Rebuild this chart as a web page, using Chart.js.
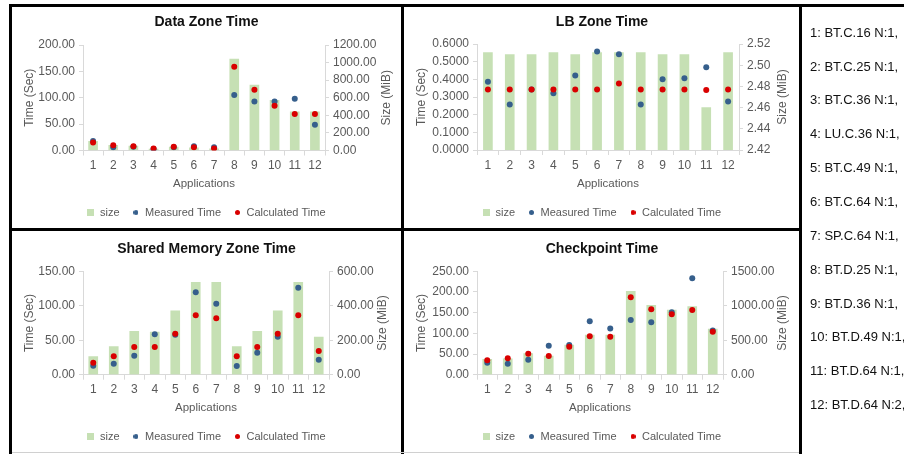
<!DOCTYPE html>
<html lang="en">
<head>
  <meta charset="UTF-8">
  <title>Zone Times</title>
  <script src="https://cdn.jsdelivr.net/npm/chart.js@4.4.1/dist/chart.umd.min.js"></script>
  <style>
    body {
      margin: 0;
      background: #fff;
      font-family: 'Liberation Sans', Arial, sans-serif;
    }

    #stage {
      position: relative;
      width: 904px;
      height: 454px;
      overflow: hidden;
      background: #fff;
    }

    canvas {
      position: absolute;
    }

    .rule {
      position: absolute;
      background: #000;
    }

    #appList {
      position: absolute;
      left: 810px;
      top: 15.8px;
      width: 94px;
      overflow: hidden;
      white-space: nowrap;
      font-size: 13px;
      line-height: 33.85px;
      color: #111;
    }
  </style>
</head>
<body>
  <div id="stage">
    <canvas id="dataChart" width="389" height="221" style="left:12px; top:7px"></canvas>
    <canvas id="lbChart" width="396" height="221" style="left:404px; top:7px"></canvas>
    <canvas id="smChart" width="389" height="221" style="left:12px; top:231px"></canvas>
    <canvas id="cpChart" width="396" height="221" style="left:404px; top:231px"></canvas>

    <!-- panel frames -->
    <div class="rule" style="left:9px; top:4px; width:895px; height:3px"></div>
    <div class="rule" style="left:9px; top:4px; width:3px; height:450px"></div>
    <div class="rule" style="left:401px; top:4px; width:3px; height:450px"></div>
    <div class="rule" style="left:799px; top:4px; width:3px; height:450px"></div>
    <div class="rule" style="left:9px; top:228px; width:793px; height:3px"></div>
    <div class="rule" style="left:12px; top:452px; width:787px; height:1px; background:#d0d0d0"></div>

    <div id="appList"></div>
  </div>

  <script>
    // categories
    const apps = ['1', '2', '3', '4', '5', '6', '7', '8', '9', '10', '11', '12'];
    const appNames = [
      '1: BT.C.16 N:1,', '2: BT.C.25 N:1,', '3: BT.C.36 N:1,', '4: LU.C.36 N:1,',
      '5: BT.C.49 N:1,', '6: BT.C.64 N:1,', '7: SP.C.64 N:1,', '8: BT.D.25 N:1,',
      '9: BT.D.36 N:1,', '10: BT.D.49 N:1,', '11: BT.D.64 N:1,', '12: BT.D.64 N:2,'
    ];

    // Data Zone Time
    const dzSize = [105, 60, 50, 15, 40, 30, 20, 1040, 745, 570, 440, 440];
    const dzMeasured = [18, 6, 7, 3, 6, 8, 6, 105, 93, 93, 98, 49];
    const dzCalculated = [15, 10, 8, 4, 7, 6, 4, 159, 115, 85, 69, 69];
    const dzTimeTicks = [0, 50, 100, 150, 200];
    const dzSizeTicks = [0, 200, 400, 600, 800, 1000, 1200];

    // LB Zone Time
    const lbSize = [2.512, 2.510, 2.510, 2.512, 2.510, 2.512, 2.512, 2.512, 2.510, 2.510, 2.460, 2.512];
    const lbMeasured = [0.387, 0.258, 0.343, 0.321, 0.421, 0.557, 0.542, 0.258, 0.400, 0.406, 0.468, 0.274];
    const lbCalculated = [0.343, 0.343, 0.343, 0.343, 0.343, 0.343, 0.377, 0.343, 0.343, 0.343, 0.340, 0.343];
    const lbTimeTicks = [0, 0.1, 0.2, 0.3, 0.4, 0.5, 0.6];
    const lbSizeTicks = [2.42, 2.44, 2.46, 2.48, 2.50, 2.52];

    // Shared Memory Zone Time
    const smSize = [105, 163, 252, 248, 370, 536, 536, 163, 252, 370, 536, 219];
    const smMeasured = [13.1, 16.0, 27.6, 58.5, 58.0, 119.5, 103, 12.6, 31.9, 55.2, 126.3, 21.8];
    const smCalculated = [17.4, 26.6, 40.2, 40.2, 59.5, 86.1, 81.8, 26.6, 40.2, 59.5, 86.1, 34.4];
    const smTimeTicks = [0, 50, 100, 150];
    const smSizeTicks = [0, 100, 200, 300, 400, 500, 600];

    // Checkpoint Time
    const cpSize = [223, 232, 305, 271, 430, 576, 576, 1210, 1006, 939, 987, 663];
    const cpMeasured = [29, 26.6, 36.3, 70.2, 71.8, 129, 112, 132.3, 126.6, 150.8, 233, 107];
    const cpCalculated = [34.7, 39.5, 50.8, 45.2, 67.7, 92.7, 91.9, 187, 158, 146, 156.5, 104];
    const cpTimeTicks = [0, 50, 100, 150, 200, 250];
    const cpSizeTicks = [0, 500, 1000, 1500];

    document.getElementById('appList').innerHTML = appNames.map(n => '<div>' + n + '</div>').join('');

    const FONT = "'Liberation Sans', Arial, sans-serif";
    const GREEN = '#c6e0b4';
    const BLUE = '#365f8c';
    const RED = '#d90000';
    const AXIS = '#d9d9d9';
    const LABEL = '#595959';

    // little legend markers
    function marker(shape, color, size) {
      const c = document.createElement('canvas');
      c.width = size;
      c.height = size;
      const g = c.getContext('2d');
      g.fillStyle = color;
      if (shape === 'rect') {
        g.fillRect(0, 0, size, size);
      } else {
        g.beginPath();
        g.arc(size / 2, size / 2, size / 2, 0, Math.PI * 2);
        g.fill();
      }
      return c;
    }
    const legendMarks = [marker('rect', GREEN, 7), marker('circle', BLUE, 5), marker('circle', RED, 5)];

    // vertical axis titles, both read bottom to top like the original
    const axisTitles = {
      id: 'axisTitles',
      afterDraw(chart, args, opts) {
        const {ctx, chartArea} = chart;
        const cy = (chartArea.top + chartArea.bottom) / 2;
        ctx.save();
        ctx.font = '12px ' + FONT;
        ctx.fillStyle = LABEL;
        ctx.textAlign = 'center';
        ctx.textBaseline = 'middle';
        [[opts.leftX, opts.left], [chartArea.right + opts.rightOffset, opts.right]].forEach(([x, text]) => {
          ctx.save();
          ctx.translate(x, cy);
          ctx.rotate(-Math.PI / 2);
          ctx.fillText(text, 0, 0);
          ctx.restore();
        });
        ctx.restore();
      }
    };

    function yAxis(position, ticks, decimals, width) {
      return {
        position: position,
        min: ticks[0],
        max: ticks[ticks.length - 1],
        afterBuildTicks: s => { s.ticks = ticks.map(v => ({value: v})); },
        afterFit: s => { s.width = width; },
        grid: {drawOnChartArea: false, tickLength: 4, color: AXIS},
        border: {color: AXIS},
        ticks: {
          padding: 4,
          color: LABEL,
          font: {family: FONT, size: 12},
          callback: v => Number(v).toFixed(decimals)
        }
      };
    }

    function makeChart(id, cfg) {
      const h = 221;
      const legendH = 11 + 13 + 10;
      return new Chart(document.getElementById(id), {
        type: 'bar',
        data: {
          labels: apps,
          datasets: [{
            type: 'bar',
            label: 'size',
            data: cfg.size,
            yAxisID: 'y1',
            backgroundColor: GREEN,
            barThickness: 9,
            order: 3
          }, {
            type: 'line',
            label: 'Measured Time',
            data: cfg.measured,
            yAxisID: 'y',
            showLine: false,
            pointRadius: 3,
            pointBorderWidth: 0,
            backgroundColor: BLUE,
            borderColor: BLUE,
            order: 2
          }, {
            type: 'line',
            label: 'Calculated Time',
            data: cfg.calculated,
            yAxisID: 'y',
            showLine: false,
            pointRadius: 3,
            pointBorderWidth: 0,
            backgroundColor: RED,
            borderColor: RED,
            order: 1
          }]
        },
        options: {
          responsive: false,
          animation: false,
          events: [],
          layout: {padding: 0},
          scales: {
            x: {
              offset: true,
              afterFit: s => { s.height = h - legendH - cfg.bottom; },
              grid: {offset: true, drawOnChartArea: false, tickLength: 5, color: AXIS},
              border: {color: AXIS},
              ticks: {padding: 3, color: LABEL, font: {family: FONT, size: 12}},
              title: {
                display: true,
                text: 'Applications',
                color: LABEL,
                font: {family: FONT, size: 11.5},
                padding: {top: 0, bottom: 3.6}
              }
            },
            y: yAxis('left', cfg.timeTicks, cfg.timeDecimals, cfg.leftW),
            y1: yAxis('right', cfg.sizeTicks, cfg.sizeDecimals, cfg.rightW)
          },
          plugins: {
            title: {
              display: true,
              text: cfg.title,
              color: '#111',
              font: {family: FONT, size: 14, weight: 'bold'},
              padding: {top: cfg.titleY - 8.4, bottom: cfg.top - cfg.titleY - 8.4}
            },
            legend: {
              position: 'bottom',
              labels: {
                usePointStyle: true,
                boxWidth: 7,
                boxHeight: 7,
                padding: 13,
                color: LABEL,
                font: {family: FONT, size: 11},
                sort: (a, b) => a.datasetIndex - b.datasetIndex,
                generateLabels: chart => {
                  const items = Chart.defaults.plugins.legend.labels.generateLabels(chart);
                  items.forEach(it => { it.pointStyle = legendMarks[it.datasetIndex]; });
                  return items;
                }
              }
            },
            tooltip: {enabled: false},
            axisTitles: {left: 'Time (Sec)', right: 'Size (MiB)', leftX: cfg.leftX, rightOffset: cfg.rightOffset}
          }
        },
        plugins: [axisTitles]
      });
    }

    makeChart('dataChart', {
      title: 'Data Zone Time',
      size: dzSize, measured: dzMeasured, calculated: dzCalculated,
      timeTicks: dzTimeTicks, sizeTicks: dzSizeTicks, timeDecimals: 2, sizeDecimals: 2,
      leftW: 71, rightW: 76, titleY: 15, top: 38, bottom: 143.5, leftX: 17.3, rightOffset: 61.7
    });

    makeChart('lbChart', {
      title: 'LB Zone Time',
      size: lbSize, measured: lbMeasured, calculated: lbCalculated,
      timeTicks: lbTimeTicks, sizeTicks: lbSizeTicks, timeDecimals: 4, sizeDecimals: 2,
      leftW: 73, rightW: 61, titleY: 15, top: 37, bottom: 143, leftX: 17.7, rightOffset: 44
    });

    makeChart('smChart', {
      title: 'Shared Memory Zone Time',
      size: smSize, measured: smMeasured, calculated: smCalculated,
      timeTicks: smTimeTicks, sizeTicks: smSizeTicks, timeDecimals: 2, sizeDecimals: 2,
      leftW: 71, rightW: 72, titleY: 18, top: 40.3, bottom: 143.7, leftX: 17.3, rightOffset: 54
    });

    makeChart('cpChart', {
      title: 'Checkpoint Time',
      size: cpSize, measured: cpMeasured, calculated: cpCalculated,
      timeTicks: cpTimeTicks, sizeTicks: cpSizeTicks, timeDecimals: 2, sizeDecimals: 2,
      leftW: 73, rightW: 77, titleY: 18, top: 40.3, bottom: 143.7, leftX: 17.7, rightOffset: 60
    });
  </script>
</body>
</html>
